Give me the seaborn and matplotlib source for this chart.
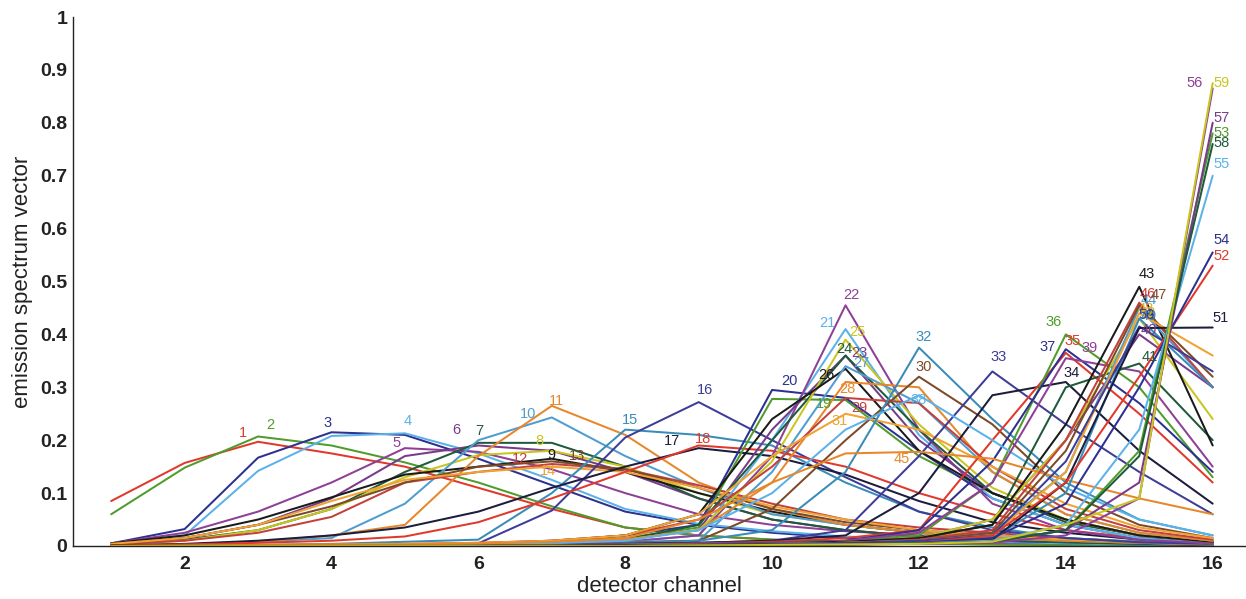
import matplotlib
matplotlib.use("Agg")
import matplotlib.pyplot as plt
import numpy as np
import pandas as pd
import seaborn as sns

# Detector channels (x axis)
channels = list(range(1, 17))

# Emission spectrum vectors, one row per fluorophore, grouped by label number
spectra_01_14 = [
    [0.085, 0.157, 0.197, 0.175, 0.150, 0.110, 0.070, 0.035, 0.020, 0.012, 0.008, 0.005, 0.003, 0.002, 0.001, 0.001],
    [0.060, 0.148, 0.207, 0.190, 0.158, 0.120, 0.075, 0.035, 0.020, 0.012, 0.007, 0.004, 0.003, 0.002, 0.001, 0.001],
    [0.005, 0.032, 0.167, 0.215, 0.210, 0.165, 0.115, 0.065, 0.040, 0.025, 0.015, 0.010, 0.007, 0.005, 0.003, 0.002],
    [0.005, 0.020, 0.142, 0.208, 0.213, 0.175, 0.125, 0.070, 0.042, 0.028, 0.018, 0.012, 0.008, 0.005, 0.003, 0.002],
    [0.005, 0.025, 0.065, 0.120, 0.185, 0.178, 0.145, 0.100, 0.060, 0.040, 0.028, 0.020, 0.013, 0.008, 0.005, 0.003],
    [0.003, 0.015, 0.040, 0.090, 0.170, 0.190, 0.180, 0.140, 0.090, 0.050, 0.030, 0.018, 0.010, 0.007, 0.004, 0.002],
    [0.003, 0.012, 0.030, 0.070, 0.140, 0.195, 0.195, 0.150, 0.090, 0.050, 0.030, 0.018, 0.010, 0.007, 0.004, 0.002],
    [0.002, 0.010, 0.030, 0.070, 0.130, 0.172, 0.180, 0.150, 0.100, 0.060, 0.040, 0.025, 0.015, 0.010, 0.006, 0.003],
    [0.005, 0.020, 0.050, 0.092, 0.135, 0.150, 0.165, 0.140, 0.100, 0.065, 0.040, 0.025, 0.015, 0.010, 0.006, 0.003],
    [0.001, 0.003, 0.008, 0.015, 0.080, 0.200, 0.243, 0.170, 0.110, 0.060, 0.040, 0.025, 0.015, 0.010, 0.006, 0.003],
    [0.001, 0.003, 0.008, 0.020, 0.040, 0.170, 0.265, 0.210, 0.120, 0.070, 0.040, 0.025, 0.015, 0.010, 0.006, 0.003],
    [0.003, 0.010, 0.025, 0.055, 0.120, 0.140, 0.155, 0.145, 0.115, 0.080, 0.050, 0.035, 0.025, 0.015, 0.008, 0.004],
    [0.004, 0.015, 0.040, 0.075, 0.120, 0.150, 0.160, 0.145, 0.110, 0.070, 0.045, 0.030, 0.020, 0.012, 0.007, 0.004],
    [0.004, 0.015, 0.040, 0.085, 0.125, 0.140, 0.150, 0.140, 0.110, 0.075, 0.050, 0.030, 0.020, 0.012, 0.007, 0.004],
]

spectra_15_31 = [
    [0.000, 0.001, 0.002, 0.004, 0.008, 0.012, 0.100, 0.220, 0.210, 0.190, 0.120, 0.065, 0.035, 0.015, 0.008, 0.005],
    [0.000, 0.000, 0.001, 0.002, 0.003, 0.005, 0.067, 0.205, 0.272, 0.200, 0.130, 0.065, 0.030, 0.015, 0.007, 0.004],
    [0.001, 0.004, 0.010, 0.020, 0.035, 0.065, 0.110, 0.150, 0.185, 0.170, 0.135, 0.085, 0.045, 0.025, 0.012, 0.006],
    [0.001, 0.003, 0.006, 0.010, 0.018, 0.045, 0.090, 0.140, 0.190, 0.180, 0.150, 0.100, 0.060, 0.030, 0.015, 0.007],
    [0.000, 0.000, 0.001, 0.002, 0.003, 0.005, 0.008, 0.015, 0.035, 0.278, 0.276, 0.170, 0.100, 0.050, 0.020, 0.010],
    [0.000, 0.000, 0.001, 0.002, 0.003, 0.005, 0.010, 0.020, 0.040, 0.295, 0.280, 0.180, 0.090, 0.040, 0.015, 0.008],
    [0.000, 0.000, 0.000, 0.001, 0.002, 0.003, 0.005, 0.008, 0.020, 0.200, 0.410, 0.210, 0.090, 0.040, 0.015, 0.005],
    [0.000, 0.000, 0.000, 0.001, 0.002, 0.003, 0.005, 0.008, 0.020, 0.170, 0.455, 0.220, 0.080, 0.030, 0.012, 0.005],
    [0.000, 0.000, 0.001, 0.002, 0.003, 0.004, 0.006, 0.012, 0.030, 0.220, 0.360, 0.200, 0.100, 0.050, 0.020, 0.008],
    [0.000, 0.000, 0.001, 0.002, 0.003, 0.004, 0.006, 0.012, 0.040, 0.200, 0.360, 0.220, 0.100, 0.045, 0.020, 0.008],
    [0.000, 0.000, 0.001, 0.002, 0.003, 0.004, 0.006, 0.012, 0.030, 0.160, 0.390, 0.230, 0.110, 0.050, 0.020, 0.008],
    [0.000, 0.000, 0.001, 0.002, 0.003, 0.005, 0.008, 0.020, 0.060, 0.240, 0.335, 0.180, 0.100, 0.050, 0.020, 0.008],
    [0.000, 0.000, 0.000, 0.001, 0.002, 0.003, 0.005, 0.008, 0.010, 0.140, 0.340, 0.270, 0.140, 0.060, 0.025, 0.010],
    [0.000, 0.000, 0.001, 0.002, 0.003, 0.005, 0.008, 0.012, 0.030, 0.120, 0.310, 0.300, 0.140, 0.060, 0.025, 0.010],
    [0.000, 0.001, 0.002, 0.003, 0.004, 0.006, 0.010, 0.020, 0.050, 0.150, 0.280, 0.270, 0.150, 0.070, 0.030, 0.012],
    [0.000, 0.000, 0.000, 0.001, 0.002, 0.003, 0.005, 0.006, 0.010, 0.070, 0.200, 0.320, 0.230, 0.100, 0.040, 0.015],
    [0.000, 0.001, 0.002, 0.003, 0.004, 0.006, 0.010, 0.020, 0.060, 0.170, 0.250, 0.220, 0.150, 0.080, 0.035, 0.015],
]

spectra_32_45 = [
    [0.000, 0.000, 0.000, 0.000, 0.001, 0.002, 0.003, 0.005, 0.010, 0.030, 0.140, 0.375, 0.240, 0.120, 0.050, 0.020],
    [0.000, 0.000, 0.000, 0.000, 0.001, 0.002, 0.003, 0.004, 0.006, 0.010, 0.030, 0.170, 0.330, 0.230, 0.140, 0.060],
    [0.000, 0.000, 0.000, 0.000, 0.001, 0.002, 0.003, 0.004, 0.006, 0.010, 0.020, 0.100, 0.285, 0.310, 0.180, 0.080],
    [0.000, 0.000, 0.000, 0.000, 0.000, 0.001, 0.002, 0.003, 0.005, 0.008, 0.015, 0.030, 0.200, 0.365, 0.250, 0.120],
    [0.000, 0.000, 0.000, 0.000, 0.000, 0.001, 0.002, 0.003, 0.004, 0.006, 0.010, 0.020, 0.120, 0.400, 0.300, 0.130],
    [0.000, 0.000, 0.000, 0.000, 0.000, 0.001, 0.002, 0.003, 0.004, 0.006, 0.010, 0.030, 0.160, 0.372, 0.270, 0.140],
    [0.000, 0.000, 0.000, 0.001, 0.002, 0.003, 0.005, 0.010, 0.030, 0.100, 0.220, 0.285, 0.200, 0.110, 0.050, 0.020],
    [0.000, 0.000, 0.000, 0.000, 0.000, 0.001, 0.002, 0.003, 0.004, 0.006, 0.010, 0.025, 0.120, 0.355, 0.330, 0.150],
    [0.000, 0.000, 0.000, 0.000, 0.000, 0.000, 0.001, 0.002, 0.003, 0.005, 0.008, 0.015, 0.050, 0.200, 0.400, 0.300],
    [0.000, 0.000, 0.000, 0.000, 0.000, 0.000, 0.001, 0.002, 0.003, 0.005, 0.008, 0.015, 0.040, 0.300, 0.345, 0.200],
    [0.000, 0.000, 0.000, 0.000, 0.000, 0.000, 0.001, 0.002, 0.003, 0.005, 0.008, 0.015, 0.050, 0.200, 0.430, 0.240],
    [0.000, 0.000, 0.000, 0.000, 0.000, 0.000, 0.001, 0.002, 0.003, 0.005, 0.008, 0.015, 0.040, 0.230, 0.490, 0.190],
    [0.000, 0.000, 0.000, 0.000, 0.000, 0.000, 0.001, 0.002, 0.003, 0.004, 0.006, 0.010, 0.025, 0.140, 0.450, 0.300],
    [0.000, 0.000, 0.001, 0.002, 0.003, 0.005, 0.008, 0.015, 0.050, 0.120, 0.175, 0.178, 0.165, 0.125, 0.090, 0.060],
]

spectra_46_59 = [
    [0.000, 0.000, 0.000, 0.000, 0.000, 0.000, 0.001, 0.002, 0.003, 0.004, 0.006, 0.012, 0.030, 0.200, 0.460, 0.300],
    [0.000, 0.000, 0.000, 0.000, 0.000, 0.000, 0.001, 0.002, 0.003, 0.004, 0.006, 0.010, 0.025, 0.180, 0.455, 0.320],
    [0.000, 0.000, 0.000, 0.000, 0.000, 0.000, 0.001, 0.002, 0.003, 0.004, 0.006, 0.010, 0.020, 0.140, 0.440, 0.360],
    [0.000, 0.000, 0.000, 0.000, 0.000, 0.000, 0.000, 0.001, 0.002, 0.003, 0.005, 0.008, 0.015, 0.100, 0.430, 0.300],
    [0.000, 0.000, 0.000, 0.000, 0.000, 0.000, 0.001, 0.002, 0.003, 0.004, 0.006, 0.010, 0.020, 0.160, 0.415, 0.330],
    [0.000, 0.000, 0.000, 0.000, 0.000, 0.000, 0.000, 0.001, 0.002, 0.003, 0.004, 0.006, 0.012, 0.120, 0.412, 0.413],
    [0.000, 0.000, 0.000, 0.000, 0.000, 0.000, 0.000, 0.001, 0.002, 0.003, 0.004, 0.006, 0.020, 0.120, 0.320, 0.530],
    [0.000, 0.000, 0.000, 0.000, 0.000, 0.000, 0.000, 0.000, 0.001, 0.002, 0.003, 0.005, 0.008, 0.030, 0.180, 0.780],
    [0.000, 0.000, 0.000, 0.000, 0.000, 0.000, 0.000, 0.001, 0.002, 0.003, 0.004, 0.006, 0.015, 0.080, 0.300, 0.555],
    [0.000, 0.000, 0.000, 0.000, 0.000, 0.000, 0.000, 0.000, 0.001, 0.002, 0.003, 0.005, 0.010, 0.040, 0.220, 0.700],
    [0.000, 0.000, 0.000, 0.000, 0.000, 0.000, 0.000, 0.000, 0.001, 0.002, 0.003, 0.004, 0.006, 0.020, 0.090, 0.865],
    [0.000, 0.000, 0.000, 0.000, 0.000, 0.000, 0.000, 0.000, 0.001, 0.002, 0.003, 0.004, 0.008, 0.030, 0.120, 0.800],
    [0.000, 0.000, 0.000, 0.000, 0.000, 0.000, 0.000, 0.000, 0.001, 0.002, 0.003, 0.005, 0.008, 0.030, 0.170, 0.760],
    [0.000, 0.000, 0.000, 0.000, 0.000, 0.000, 0.000, 0.000, 0.001, 0.002, 0.003, 0.004, 0.008, 0.040, 0.090, 0.875],
]

series_ids = list(range(1, 60))
y_ticks = [0, 0.1, 0.2, 0.3, 0.4, 0.5, 0.6, 0.7, 0.8, 0.9, 1]
x_ticks = [2, 4, 6, 8, 10, 12, 14, 16]

# Line colour cycle (17 colours, repeating)
line_colors = [
    "#e0392b", "#4f9c2c", "#2c3190", "#5cb2e8", "#8e3f96", "#7a3a8c",
    "#1f5a3a", "#c9c61f", "#1a1a1a", "#4f9cd0", "#e8872a", "#c4403c",
    "#7c4a28", "#f0a232", "#3a8cb8", "#3d3d98", "#1c1c3c",
]

# Pixel nudges for the number tags (dx right, dy up) so crowded peaks stay legible
tag_nudge = {
    1: (-15, 9), 2: (12, 11), 3: (-4, 9), 4: (3, 12), 5: (-8, 5), 6: (-22, 15),
    7: (1, 12), 8: (-12, 10), 9: (0, 4), 10: (-24, 3), 11: (5, 5), 12: (-32, 5),
    13: (25, 5), 14: (-4, -4), 15: (5, 10), 16: (6, 12), 17: (-27, 7), 18: (4, 6),
    19: (52, -5), 20: (17, 9), 21: (-18, 6), 22: (6, 10), 23: (14, 3), 24: (-1, 7),
    25: (12, 8), 26: (-19, -6), 27: (16, 3), 28: (2, -7), 29: (14, -10), 30: (5, 10),
    31: (-6, -7), 32: (5, 11), 33: (6, 14), 34: (6, 9), 35: (7, 12), 36: (-12, 12),
    37: (-18, 2), 38: (0, -5), 39: (24, 10), 40: (10, 4), 41: (10, 6), 42: (8, 6),
    43: (7, 13), 44: (9, 8), 45: (-17, -7), 46: (8, 9), 47: (19, 10), 48: (6, 4),
    49: (9, 3), 50: (7, 11), 51: (8, 10), 52: (9, 10), 53: (9, 0), 54: (9, 12),
    55: (9, 12), 56: (-18, 5), 57: (9, 5), 58: (9, 1), 59: (9, 0),
}

spectra = spectra_01_14 + spectra_15_31 + spectra_32_45 + spectra_46_59

rows = []
for sid, vals in zip(series_ids, spectra):
    for ch, v in zip(channels, vals):
        rows.append((sid, ch, v))
df = pd.DataFrame(rows, columns=["series", "channel", "value"])

palette = {sid: line_colors[(sid - 1) % len(line_colors)] for sid in series_ids}

sns.set_theme(style="white")
plt.rcParams["font.family"] = ["Liberation Sans", "DejaVu Sans"]

fig = plt.figure(figsize=(12.46, 5.99), dpi=100)
ax = fig.add_axes([73 / 1246, 53 / 599, 1172 / 1246, 529 / 599])

sns.lineplot(data=df, x="channel", y="value", hue="series", palette=palette,
             legend=False, linewidth=1.45, estimator=None, sort=False, ax=ax)

# Number each spectrum at its maximum
for sid, vals in zip(series_ids, spectra):
    k = int(np.argmax(vals))
    ax.annotate(str(sid), (channels[k], vals[k]), xytext=tag_nudge[sid],
                textcoords="offset pixels", ha="center", va="center",
                color=palette[sid], fontsize=10.5)

ax.set_xlim(0.48, 16.44)
ax.set_ylim(0, 1)
ax.set_xticks(x_ticks)
ax.set_xticklabels([str(t) for t in x_ticks], fontweight="bold", fontsize=14)
ax.set_yticks(y_ticks)
ax.set_yticklabels([f"{t:g}" for t in y_ticks], fontweight="bold", fontsize=14)
ax.tick_params(axis="both", direction="in", length=9, width=1, colors="#222222")
ax.tick_params(axis="x", pad=7)
ax.tick_params(axis="y", pad=4)

for side in ("top", "right"):
    ax.spines[side].set_visible(False)
for side in ("left", "bottom"):
    ax.spines[side].set_color("#222222")
    ax.spines[side].set_linewidth(1.0)

ax.set_xlabel("detector channel", fontsize=16, labelpad=2, color="#222222")
ax.set_ylabel("emission spectrum vector", fontsize=16, labelpad=5, color="#222222")

fig.savefig("out.png", dpi=100, facecolor="white")
